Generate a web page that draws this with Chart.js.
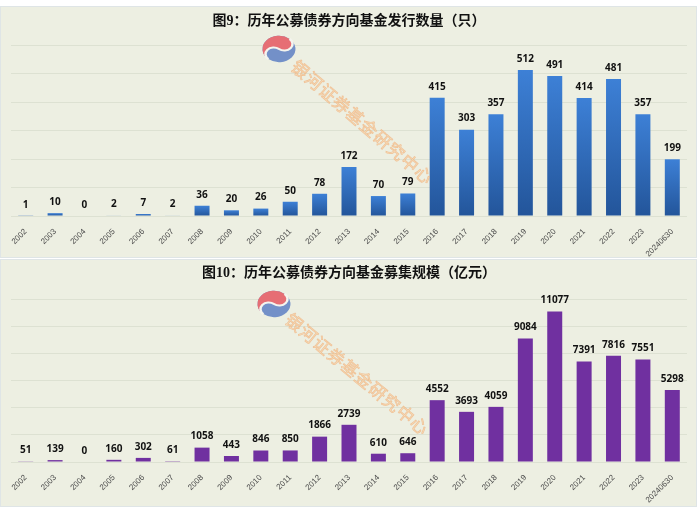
<!DOCTYPE html>
<html>
<head>
<meta charset="utf-8">
<script src="https://cdn.jsdelivr.net/npm/chart.js@4.4.0/dist/chart.umd.min.js"></script>
<style>
html,body{margin:0;padding:0;background:#ffffff;width:700px;height:513px;overflow:hidden;}
.panel{position:absolute;left:0;width:697px;background:#edefe2;border:1px solid #dfe5e6;box-sizing:border-box;}
#p1{top:6px;height:252px;}
#p2{top:259px;height:248px;}
canvas{position:absolute;left:0;top:0;}
</style>
</head>
<body>
<div class="panel" id="p1"><canvas id="c1" width="700" height="251"></canvas></div>
<div class="panel" id="p2"><canvas id="c2" width="700" height="247"></canvas></div>
<script>
const categories = ['2002','2003','2004','2005','2006','2007','2008','2009','2010','2011','2012','2013','2014','2015','2016','2017','2018','2019','2020','2021','2022','2023','20240630'];
const fundCounts = [1,10,0,2,7,2,36,20,26,50,78,172,70,79,415,303,357,512,491,414,481,357,199];
const fundSizes = [51,139,0,160,302,61,1058,443,846,850,1866,2739,610,646,4552,3693,4059,9084,11077,7391,7816,7551,5298];
const title1 = '图9：历年公募债券方向基金发行数量（只）';
const title2 = '图10：历年公募债券方向基金募集规模（亿元）';
const watermarkText = '银河证券基金研究中心';

const labelPlugin = {
  id: 'valueLabels',
  afterDatasetsDraw(chart) {
    const ctx = chart.ctx;
    const meta = chart.getDatasetMeta(0);
    const data = chart.data.datasets[0].data;
    ctx.save();
    ctx.font = 'bold 10px "Noto Sans", sans-serif';
    ctx.fillStyle = '#111';
    ctx.textAlign = 'center';
    ctx.textBaseline = 'middle';
    meta.data.forEach((bar, i) => {
      ctx.fillText(String(data[i]), bar.x, bar.y - 11);
    });
    ctx.restore();
  }
};

function drawLogo(ctx, x, y) {
  const r = 16.5;
  ctx.save();
  ctx.translate(x, y);
  ctx.scale(1, 0.8);
  ctx.rotate(-50 * Math.PI / 180);
  ctx.beginPath();
  ctx.arc(0, 0, r, 0, Math.PI * 2);
  ctx.fillStyle = '#7390c8';
  ctx.fill();
  ctx.beginPath();
  ctx.arc(0, 0, r, Math.PI, 0, false);
  ctx.arc(r / 2, 0, r / 2, 0, Math.PI, false);
  ctx.arc(-r / 2, 0, r / 2, 0, Math.PI, true);
  ctx.closePath();
  ctx.fillStyle = '#e66e74';
  ctx.fill();
  ctx.beginPath();
  ctx.moveTo(r, 0);
  ctx.arc(r / 2, 0, r / 2, 0, Math.PI, false);
  ctx.arc(-r / 2, 0, r / 2, 0, Math.PI, true);
  ctx.strokeStyle = '#f4f4ee';
  ctx.lineWidth = 2.5;
  ctx.stroke();
  ctx.restore();
}

function watermarkPlugin(logoX, logoY, textX, textY, angle) {
  return {
    id: 'watermark',
    afterDatasetsDraw(chart) {
      const ctx = chart.ctx;
      drawLogo(ctx, logoX, logoY);
      ctx.save();
      ctx.translate(textX, textY);
      ctx.rotate(angle * Math.PI / 180);
      ctx.font = '17px "Noto Sans CJK SC", sans-serif';
      ctx.textAlign = 'center';
      ctx.textBaseline = 'middle';
      const chars = Array.from(watermarkText);
      const step = 18;
      chars.forEach((ch, i) => {
        const px = (i - (chars.length - 1) / 2) * step;
        ctx.fillStyle = 'rgba(250,215,170,0.6)';
        ctx.fillText(ch, px, 0);
        ctx.strokeStyle = 'rgba(238,160,100,0.55)';
        ctx.lineWidth = 0.7;
        ctx.strokeText(ch, px, 0);
      });
      ctx.restore();
    }
  };
}

function makeChart(id, values, titleText, maxV, stepV, color, titleTop, titleBottom, xHeight, wm) {
  return new Chart(document.getElementById(id), {
    type: 'bar',
    data: {
      labels: categories,
      datasets: [{
        data: values,
        backgroundColor: color,
        borderWidth: 0,
        categoryPercentage: 1,
        barPercentage: 0.51
      }]
    },
    options: {
      responsive: false,
      animation: false,
      layout: { padding: { left: 10, right: 14, top: 0, bottom: 0 } },
      plugins: {
        legend: { display: false },
        tooltip: { enabled: false },
        title: {
          display: true,
          text: titleText,
          color: '#111',
          font: { family: '"Liberation Serif", "Noto Sans CJK SC", serif', size: 14, weight: 'bold' },
          padding: { top: titleTop, bottom: titleBottom }
        }
      },
      scales: {
        x: {
          grid: { display: false },
          border: { display: false },
          ticks: {
            color: '#4a4a4a',
            font: { family: '"Liberation Sans", sans-serif', size: 8 },
            minRotation: 45, maxRotation: 45,
            autoSkip: false, padding: 3
          },
          afterFit(s) { s.height = xHeight; }
        },
        y: {
          min: 0, max: maxV,
          ticks: { display: false, stepSize: stepV },
          grid: { color: '#dde1d2', lineWidth: 1, drawTicks: false },
          border: { display: false },
          afterFit(s) { s.width = 0; }
        }
      }
    },
    plugins: [wm, labelPlugin]
  });
}

function blueGradient(context) {
  const chart = context.chart;
  const area = chart.chartArea;
  if (!area || context.type !== 'data') return '#2f6bbd';
  const v = context.parsed ? context.parsed.y : context.raw;
  const yTop = chart.scales.y.getPixelForValue(v);
  const yBot = area.bottom;
  if (!(yBot - yTop > 1)) return '#2f6bbd';
  const g = chart.ctx.createLinearGradient(0, yTop, 0, yBot);
  g.addColorStop(0, '#3d80d6');
  g.addColorStop(1, '#23559a');
  return g;
}

makeChart('c1', fundCounts, title1, 600, 100, blueGradient, 6, 15.2, 42,
  watermarkPlugin(278, 42, 361, 115, 40.5));
makeChart('c2', fundSizes, title2, 12000, 2000, '#7030a0', 4.6, 17.6, 45,
  watermarkPlugin(273, 44, 356, 114, 39.5));
</script>
</body>
</html>
